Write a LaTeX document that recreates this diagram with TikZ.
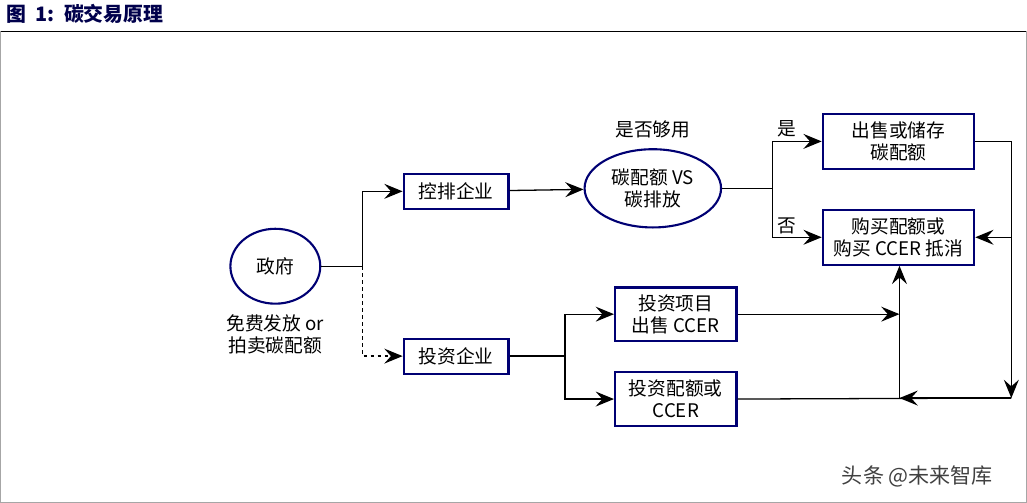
\documentclass[tikz,border=0pt]{standalone}
\usepackage{fontspec}
\setmainfont{Liberation Sans}
\newfontfamily\cjk{Noto Sans CJK SC}
\usetikzlibrary{calc,positioning,shapes.geometric,arrows.meta}

\begin{document}
\begin{tikzpicture}[
    x=0.03cm, y=-0.03cm,
    font=\cjk\fontsize{16}{19}\selectfont,
    align=center,
    % nodes
    base/.style={rectangle, draw=blue!45!black, line width=1.8pt, inner sep=1pt},
    oval/.style={ellipse, draw=blue!45!black, line width=1.8pt, inner sep=0pt},
    label/.style={text=black},
    % arrows
    arr/.style={-{Stealth[length=5.5mm,width=4.5mm,inset=2mm]}, black, line width=1.1pt},
    line/.style={black, line width=1.1pt},
  ]

  % frame and title
  \draw[gray!70] (0,37) rectangle (1027,508);
  \draw[black, line width=1.2pt] (0,37) -- (1027,37);
  \node (title) [anchor=west, font=\cjk\bfseries\fontsize{17}{19}\selectfont, text=blue!30!black] at (2,19) {图\ \ 1:\ \ 碳交易原理};

  \node (gov)    [oval, minimum width=2.7cm, minimum height=2.25cm] at (275,272) {政府};
  \node (govtxt) [label] at (275,340) {免费发放 or\\拍卖碳配额};

  \node (ctrl)   [base, minimum width=3.15cm, minimum height=1.05cm] at (456,197) {控排企业};
  \node (inv)    [base, minimum width=3.15cm, minimum height=1.05cm] at (456,362) {投资企业};

  \node (cmp)    [oval, minimum width=4.1cm, minimum height=2.35cm] at (653,194) {碳配额 VS\\碳排放};
  \node (enough) [label] at (653,135) {是否够用};

  \node (sell)   [base, minimum width=4.55cm, minimum height=1.65cm] at (899,147) {出售或储存\\碳配额};
  \node (buy)    [base, minimum width=4.55cm, minimum height=1.65cm] at (899,243) {购买配额或\\购买 CCER 抵消};

  \node (proj)   [base, minimum width=3.65cm, minimum height=1.6cm] at (676,320) {投资项目\\出售 CCER};
  \node (quota)  [base, minimum width=3.65cm, minimum height=1.6cm] at (676,405) {投资配额或\\CCER};

  \node (yes)    [label] at (787,134) {是};
  \node (no)     [label] at (787,232) {否};

  \node (mark)   [text=black!75, font=\cjk\fontsize{18}{20}\selectfont] at (918,482) {头条 @未来智库};

  % branch points
  \coordinate (govfork)  at (362,272);
  \coordinate (cmpfork)  at (773,194);
  \coordinate (invfork)  at (565,362);
  \coordinate (rightbus) at (1012,147);
  \coordinate (rightbot) at (1012,404);
  \coordinate (midbus)   at (900,404);

  \draw[line] (gov.east) -- (govfork);
  \draw[arr] (govfork) |- (ctrl.west);
  \draw[arr, dashed] (govfork) |- (inv.west);
  \draw[arr] (ctrl) -- (cmp);

  \draw[line] (cmp.east) -- (cmpfork);
  \draw[arr] (cmpfork) |- (sell.west);
  \draw[arr] (cmpfork) |- (buy.west);

  \draw[line] (inv.east) -- (invfork);
  \draw[arr] (invfork) |- (proj.west);
  \draw[arr] (invfork) |- (quota.west);

  % right side
  \draw[line] (sell.east) -| (rightbus);
  \draw[arr] (rightbus) -- (rightbot);
  \draw[arr] (rightbus |- buy.east) -- (buy.east);
  \draw[line] (quota.east) -- (rightbot);
  \draw[arr] (rightbot) -- (midbus);
  \draw[arr] (midbus) -- (midbus |- buy.south);
  \draw[arr] (proj.east) -- (proj.east -| midbus);

\end{tikzpicture}
\end{document}
